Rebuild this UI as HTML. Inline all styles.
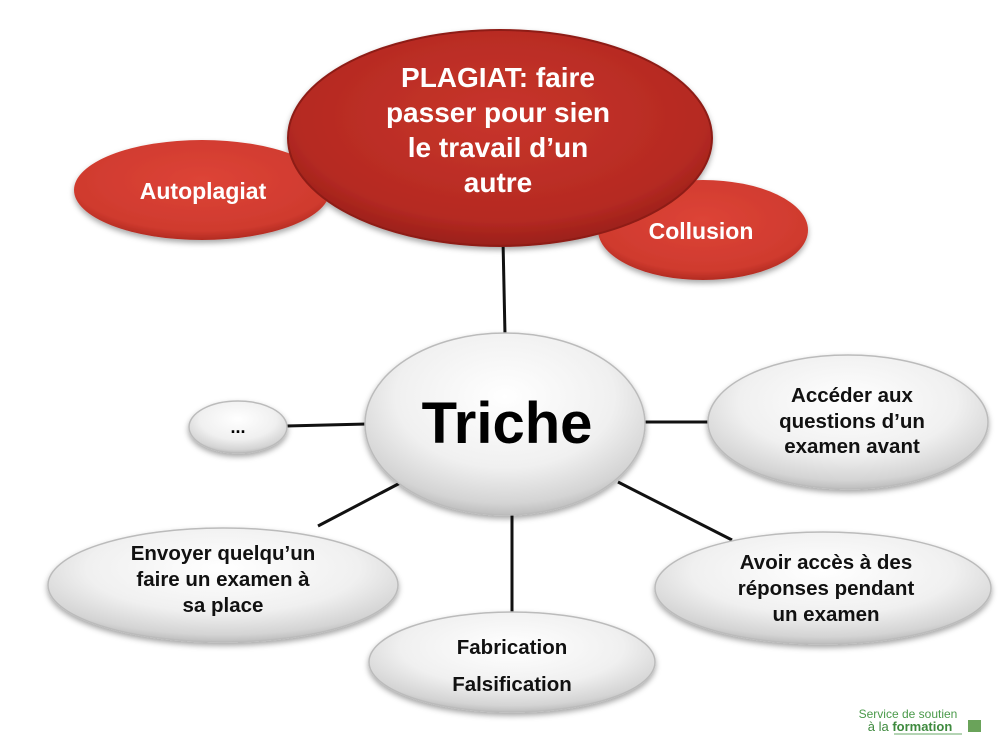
<!DOCTYPE html>
<html><head><meta charset="utf-8"><style>
html,body{margin:0;padding:0;background:#fff;}
svg{display:block;}
text{font-family:"Liberation Sans",sans-serif;font-weight:bold;text-anchor:middle;}
</style></head><body>
<svg width="1000" height="750" viewBox="0 0 1000 750" xmlns="http://www.w3.org/2000/svg">
<defs>
<radialGradient id="red" cx="50%" cy="40%" r="60%">
<stop offset="0" stop-color="#c8352b"/><stop offset="0.8" stop-color="#b52a22"/><stop offset="1" stop-color="#9a1f19"/>
</radialGradient>
<radialGradient id="red2" cx="50%" cy="40%" r="60%">
<stop offset="0" stop-color="#dd4437"/><stop offset="0.85" stop-color="#cf3a2e"/><stop offset="1" stop-color="#b22b22"/>
</radialGradient>
<radialGradient id="gr" cx="50%" cy="35%" r="65%">
<stop offset="0" stop-color="#ffffff"/><stop offset="0.6" stop-color="#f0f0f0"/><stop offset="0.9" stop-color="#d4d4d4"/><stop offset="1" stop-color="#bdbdbd"/>
</radialGradient>
<filter id="sh" x="-10%" y="-10%" width="120%" height="130%"><feDropShadow dx="0" dy="3" stdDeviation="3" flood-opacity="0.35"/></filter>
</defs>
<g stroke="#111" stroke-width="3">
<line x1="503" y1="240" x2="505" y2="335"/>
<line x1="286" y1="426" x2="367" y2="424"/>
<line x1="643" y1="422" x2="710" y2="422"/>
<line x1="402" y1="482" x2="318" y2="526"/>
<line x1="618" y1="482" x2="732" y2="540"/>
<line x1="512" y1="512" x2="512" y2="614"/>
</g>
<g filter="url(#sh)">
<ellipse cx="202" cy="190" rx="128" ry="50" fill="url(#red2)"/>
<ellipse cx="703" cy="230" rx="105" ry="50" fill="url(#red2)"/>
<ellipse cx="500" cy="138" rx="212" ry="108" fill="url(#red)" stroke="#8e1c16" stroke-width="2"/>
<ellipse cx="505" cy="424" rx="140" ry="91" fill="url(#gr)" stroke="#bbb" stroke-width="1.5"/>
<ellipse cx="238" cy="427" rx="49" ry="26" fill="url(#gr)" stroke="#bbb" stroke-width="1.5"/>
<ellipse cx="848" cy="422" rx="140" ry="67" fill="url(#gr)" stroke="#bbb" stroke-width="1.5"/>
<ellipse cx="823" cy="588" rx="168" ry="56" fill="url(#gr)" stroke="#bbb" stroke-width="1.5"/>
<ellipse cx="223" cy="585" rx="175" ry="57" fill="url(#gr)" stroke="#bbb" stroke-width="1.5"/>
<ellipse cx="512" cy="662" rx="143" ry="50" fill="url(#gr)" stroke="#bbb" stroke-width="1.5"/>
</g>
<g fill="#fff" font-size="28">
<text x="498" y="87">PLAGIAT: faire</text>
<text x="498" y="122">passer pour sien</text>
<text x="498" y="157">le travail d’un</text>
<text x="498" y="192">autre</text>
</g>
<text x="203" y="199" fill="#fff" font-size="23">Autoplagiat</text>
<text x="701" y="239" fill="#fff" font-size="23">Collusion</text>
<text x="507" y="443" fill="#000" font-size="58">Triche</text>
<text x="238" y="433" fill="#000" font-size="18">...</text>
<g fill="#111" font-size="20.5">
<text x="852" y="402">Accéder aux</text>
<text x="852" y="428">questions d’un</text>
<text x="852" y="453">examen avant</text>
<text x="826" y="569">Avoir accès à des</text>
<text x="826" y="595">réponses pendant</text>
<text x="826" y="621">un examen</text>
<text x="223" y="560">Envoyer quelqu’un</text>
<text x="223" y="586">faire un examen à</text>
<text x="223" y="612">sa place</text>
<text x="512" y="654">Fabrication</text>
<text x="512" y="691">Falsification</text>
</g>
<text x="908" y="718" fill="#4a9a4a" font-size="12" style="font-weight:normal">Service de soutien</text>
<text x="910" y="731" fill="#3e8a3e" font-size="13" style="font-weight:normal">à la <tspan font-weight="bold">formation</tspan></text>
<line x1="894" y1="734" x2="962" y2="734" stroke="#6aa86a" stroke-width="1"/>
<rect x="968" y="720" width="13" height="12" fill="#6aa35a"/>
</svg>
</body></html>
